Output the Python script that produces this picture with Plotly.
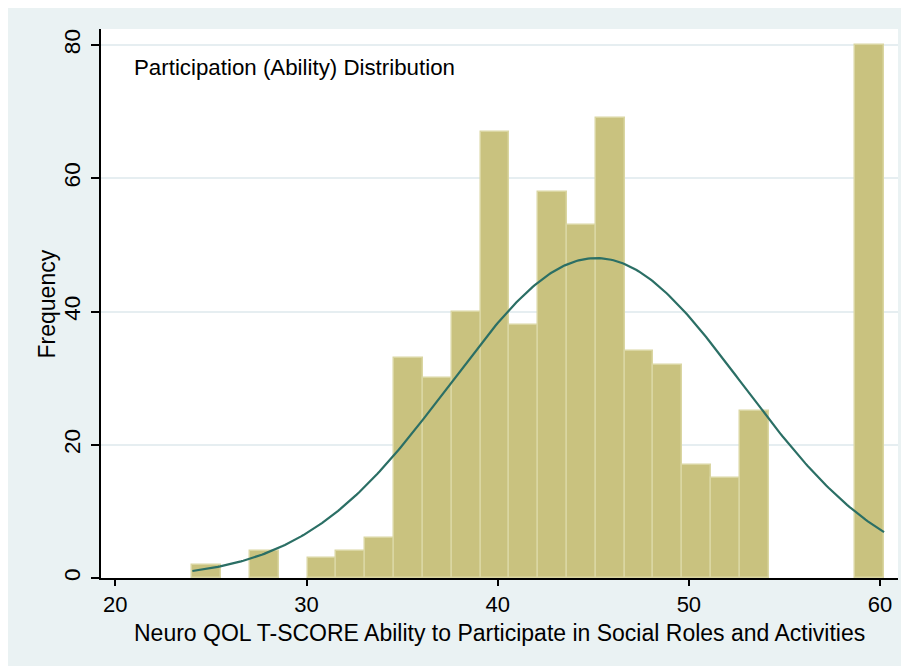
import numpy as np
import plotly.graph_objects as go

# ---- data ----
bin_start = 24.03          # left edge of first bin
bin_width = 1.5075         # histogram bin width
counts = [2, 0, 4, 0, 3, 4, 6, 33, 30, 40, 67, 38, 58, 53, 69, 34, 32, 17, 15, 25, 0, 0, 0, 80]
fit_mean = 45.15           # normal overlay parameters
fit_sd = 7.64
x_ticks = [20, 30, 40, 50, 60]
y_ticks = [0, 20, 40, 60, 80]
title_text = "Participation (Ability) Distribution"
x_title = "Neuro QOL T-SCORE Ability to Participate in Social Roles and Activities"
y_title = "Frequency"

n_total = sum(counts)
centers = [bin_start + (i + 0.5) * bin_width for i in range(len(counts))]
bar_vals = [c if c > 0 else None for c in counts]
bin_end = bin_start + len(counts) * bin_width

xs = np.linspace(bin_start, bin_end, 300)
ys = n_total * bin_width / (fit_sd * np.sqrt(2 * np.pi)) * np.exp(-0.5 * ((xs - fit_mean) / fit_sd) ** 2)

FONT = "Liberation Sans, Arial, Helvetica, sans-serif"
BG = "#EAF2F3"

fig = go.Figure()
fig.add_trace(go.Bar(
    x=centers, y=bar_vals, width=bin_width,
    marker=dict(color="#C9C27F", line=dict(color="#DAD6A2", width=1.5)),
    hoverinfo="x+y", showlegend=False,
))
fig.add_trace(go.Scatter(
    x=xs, y=ys, mode="lines",
    line=dict(color="#2B6F65", width=2.2),
    showlegend=False,
))

fig.update_layout(
    width=909, height=666,
    margin=dict(l=93, r=19, t=21, b=96, autoexpand=False),
    paper_bgcolor=BG,
    plot_bgcolor="white",
    bargap=0,
    font=dict(family=FONT, size=22.5, color="black"),
    annotations=[
        dict(text=title_text, xref="paper", yref="paper", x=0.0389, y=0.929,
             xanchor="left", yanchor="middle", showarrow=False,
             font=dict(family=FONT, size=22.3, color="black")),
        dict(text=x_title, xref="paper", yref="paper", x=0.5, y=-0.1,
             xanchor="center", yanchor="middle", showarrow=False,
             font=dict(family=FONT, size=23, color="black")),
        dict(text=y_title, xref="paper", yref="paper", x=-0.0678, y=0.5,
             xanchor="center", yanchor="middle", showarrow=False, textangle=-90,
             font=dict(family=FONT, size=23, color="black")),
    ],
)

fig.update_xaxes(
    range=[19.25, 60.94], automargin=False,
    tickvals=x_ticks, ticktext=[str(v) for v in x_ticks],
    ticks="outside", ticklen=6, tickwidth=1.5, tickcolor="black",
    showline=True, linecolor="black", linewidth=1.5,
    showgrid=False, zeroline=False,
    tickfont=dict(size=22),
)
fig.update_yaxes(
    range=[0, 82.4], automargin=False,
    tickvals=y_ticks, ticktext=[str(v) for v in y_ticks],
    tickangle=-90,
    ticks="outside", ticklen=8, tickwidth=1.5, tickcolor="black",
    ticklabelstandoff=2,
    showline=True, linecolor="black", linewidth=1.5,
    showgrid=True, gridcolor="#E6EEF1", gridwidth=1.5,
    zeroline=False,
    tickfont=dict(size=22.5),
)

fig.write_html("out.html")
